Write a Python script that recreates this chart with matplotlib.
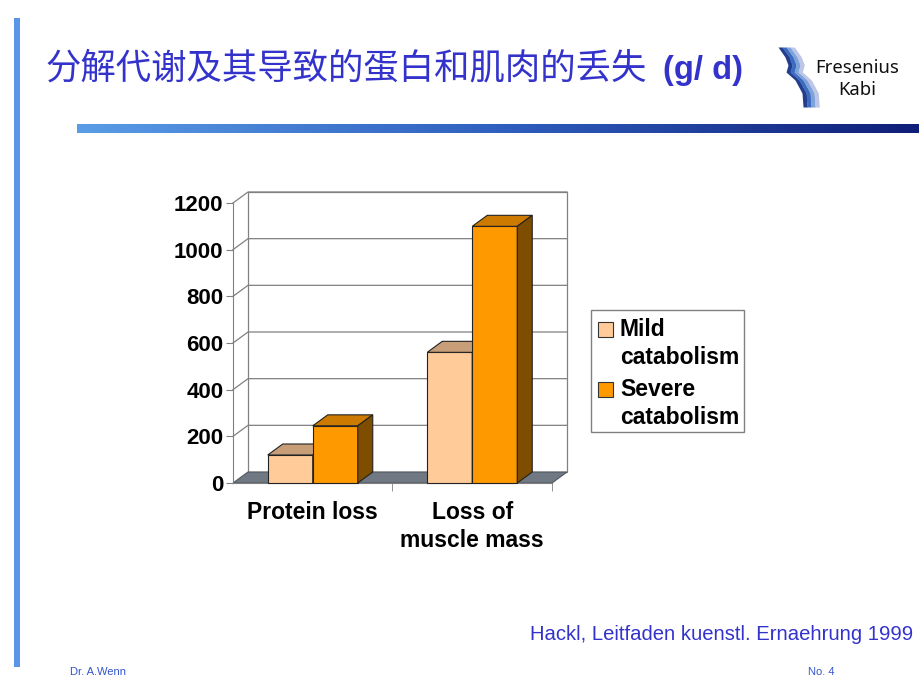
import numpy as np
import matplotlib.pyplot as plt
from matplotlib.patches import Polygon, Rectangle
from matplotlib.colors import LinearSegmentedColormap

# data
categories = ['Protein loss', 'Loss of\nmuscle mass']
series = ['Mild\ncatabolism', 'Severe\ncatabolism']
mild = [120, 560]
severe = [245, 1100]
yticks = [0, 200, 400, 600, 800, 1000, 1200]

front_col = ['#FFCC99', '#FF9900']
top_col = ['#C89E78', '#CC7A00']
side_col = ['#A07850', '#7F4D00']

blue = '#3333CC'

W, H = 920, 690
fig = plt.figure(figsize=(9.2, 6.9), dpi=100)

# page decoration in pixel coordinates
deco = fig.add_axes([0, 0, 1, 1])
deco.set_xlim(0, W)
deco.set_ylim(H, 0)
deco.axis('off')

deco.add_patch(Rectangle((14, 18), 6, 649, color='#5B95E8', lw=0))
grad = np.linspace(0, 1, 256).reshape(1, -1)
cm = LinearSegmentedColormap.from_list('bar', ['#5A9CE6', '#2F5FBF', '#0F1E78'])
deco.imshow(grad, extent=(77, 920, 133, 124), aspect='auto', cmap=cm, zorder=1)

deco.text(45, 69, '分解代谢及其导致的蛋白和肌肉的丢失', color=blue, fontsize=25.5,
          family=['Noto Sans CJK SC', 'DejaVu Sans'], va='center', ha='left')
deco.text(663, 71, '(g/ d)', color=blue, fontsize=23.5, fontweight='bold',
          family='Liberation Sans', va='center', ha='left')

# logo
ly = np.linspace(47, 107, 80)
lx = np.interp(ly, [47, 57, 65, 72, 80, 93, 107], [778, 785, 788, 786, 795, 802, 803])
band_cols = ['#233E8C', '#3C6CC0', '#7EA2DA', '#BCC6E8']
for i, c in enumerate(band_cols):
    deco.fill_betweenx(ly, lx + i * 4.0, lx + (i + 1) * 4.0 + 0.3, color=c, lw=0)
deco.text(815, 68, 'Fresenius', fontsize=13.3, family='Noto Sans', color='#111111',
          va='center', ha='left')
deco.text(838, 90, 'Kabi', fontsize=13.3, family='Noto Sans', color='#111111',
          va='center', ha='left')

deco.text(913, 635, 'Hackl, Leitfaden kuenstl. Ernaehrung 1999', color=blue, fontsize=14.6,
          family='Liberation Sans', ha='right', va='center')
deco.text(70, 672, 'Dr. A.Wenn', color='#3355CC', fontsize=8, family='Liberation Sans',
          ha='left', va='center')
deco.text(808, 672, 'No. 4', color='#3355CC', fontsize=8, family='Liberation Sans',
          ha='left', va='center')

# legend
deco.add_patch(Rectangle((591, 310), 153, 122, fill=False, ec='#808080', lw=1))
leg_rows = [(329, 356), (389, 416)]
for (y1, y2), lab, c in zip(leg_rows, series, front_col):
    deco.add_patch(Rectangle((598, y1 - 7), 15, 15, fc=c, ec='#333333', lw=0.8))
    l1, l2 = lab.split('\n')
    deco.text(620, y1 + 1, l1, fontsize=16.5, fontweight='bold', family='Liberation Sans', va='center')
    deco.text(620, y2 + 1, l2, fontsize=16.5, fontweight='bold', family='Liberation Sans', va='center')

# chart axes: front axis x=233px <-> -0.5, 159.5 px per category; y 0 <-> 483px, 1200 <-> 203px
px_x = 159.5
px_y = 280 / 1200
left, right, top, bottom = 200, 600, 170, 500
ax = fig.add_axes([left / W, 1 - bottom / H, (right - left) / W, (bottom - top) / H])
ax.patch.set_alpha(0)
ax.set_xlim(-0.5 - (233 - left) / px_x, -0.5 + (right - 233) / px_x)
ax.set_ylim(-(bottom - 483) / px_y, 1200 + (203 - top) / px_y)
DX = 15 / px_x
DY = 11 / px_y
x0, x1 = -0.5, 1.5

grid_c = '#808080'
# back wall
ax.add_patch(Rectangle((x0 + DX, DY), x1 - x0, 1200, fc='white', ec=grid_c, lw=0.9, zorder=1))
for v in yticks[1:]:
    ax.plot([x0, x0 + DX, x1 + DX], [v, v + DY, v + DY], color=grid_c, lw=0.9, zorder=1.5)
# floor
ax.add_patch(Polygon([(x0, 0), (x1, 0), (x1 + DX, DY), (x0 + DX, DY)],
                     fc='#707884', ec='#505860', lw=0.8, zorder=2))
# bars
bw = 45 / px_x
xs = np.arange(len(categories))
for i in xs:
    for k, vals in enumerate([mild, severe]):
        v = vals[i]
        xl = i - bw + k * bw
        xr = xl + bw
        ax.bar(xl, v, width=bw, align='edge', color=front_col[k], edgecolor='#222222', lw=0.8, zorder=3)
        ax.add_patch(Polygon([(xl, v), (xr, v), (xr + DX, v + DY), (xl + DX, v + DY)],
                             fc=top_col[k], ec='#222222', lw=0.8, zorder=3))
        ax.add_patch(Polygon([(xr, 0), (xr, v), (xr + DX, v + DY), (xr + DX, DY)],
                             fc=side_col[k], ec='#222222', lw=0.8, zorder=3))

for s in ['top', 'right']:
    ax.spines[s].set_visible(False)
ax.spines['left'].set_position(('data', x0))
ax.spines['left'].set_bounds(0, 1200)
ax.spines['left'].set_color(grid_c)
ax.spines['bottom'].set_position(('data', 0))
ax.spines['bottom'].set_bounds(x0, x1)
ax.spines['bottom'].set_color(grid_c)
ax.set_yticks(yticks)
ax.set_yticklabels([str(t) for t in yticks], fontsize=16, fontweight='bold', family='Liberation Sans')
ax.tick_params(axis='y', length=5, color=grid_c, pad=2)
ax.set_xticks(xs)
ax.set_xticklabels(categories, fontsize=16.5, fontweight='bold', family='Liberation Sans',
                   linespacing=1.3)
ax.set_xticks([0.5, 1.5], minor=True)
ax.tick_params(axis='x', which='major', length=0, pad=13)
ax.tick_params(axis='x', which='minor', length=6, color=grid_c)

fig.savefig('out.png', dpi=100)
